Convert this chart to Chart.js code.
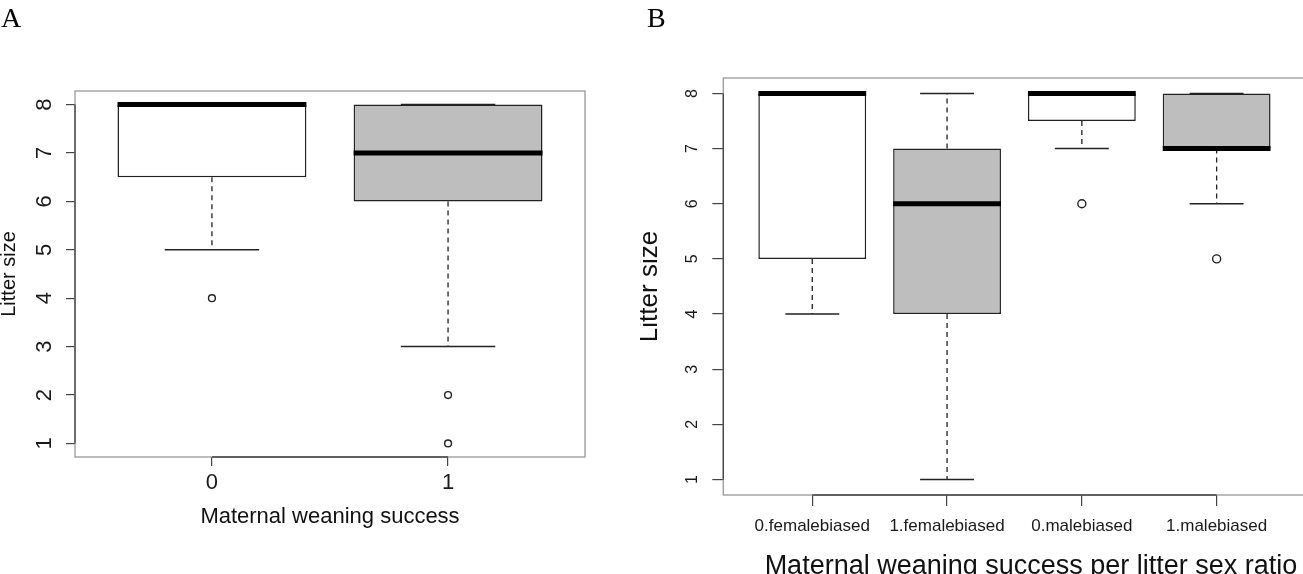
<!DOCTYPE html>
<html>
<head>
<meta charset="utf-8">
<script src="https://cdn.jsdelivr.net/npm/chart.js@4.4.1/dist/chart.umd.min.js"></script>
<style>
  html, body { margin: 0; padding: 0; background: #fff; overflow: hidden; }
  #panelA { position: absolute; left: 0; top: 0; width: 640px; height: 574px; }
  #panelB { position: absolute; left: 640px; top: 0; width: 680px; height: 574px; }
</style>
</head>
<body>
<div id="panelA"><canvas id="chartA"></canvas></div>
<div id="panelB"><canvas id="chartB"></canvas></div>
<script>
// Panel A: litter size by maternal weaning success
const groupsA = ['0', '1'];
const lowerA = [5, 3];
const q1A = [6.5, 6];
const medianA = [8, 7];
const q3A = [8, 8];
const upperA = [8, 8];
const outliersA = [[4], [2, 1]];
const fillsA = ['#FFFFFF', '#BEBEBE'];

// Panel B: maternal weaning success per litter sex ratio
const groupsB = ['0.femalebiased', '1.femalebiased', '0.malebiased', '1.malebiased'];
const lowerB = [4, 1, 7, 6];
const q1B = [5, 4, 7.5, 7];
const medianB = [8, 6, 8, 7];
const q3B = [8, 7, 8, 8];
const upperB = [8, 8, 8, 8];
const outliersB = [[], [], [6], [5]];
const fillsB = ['#FFFFFF', '#BEBEBE', '#FFFFFF', '#BEBEBE'];

const yTicks = [1, 2, 3, 4, 5, 6, 7, 8];

const BOX_WIDTH = 0.8;     // R boxwex
const STAPLE_WIDTH = 0.5;  // R staplewex
const FONT = '"Liberation Sans", Arial, sans-serif';

/**
 * Draws the parts of an R style boxplot that Chart.js has no element for:
 * dashed whiskers, staples, median bars and the plot frame.
 */
const boxplotExtras = {
    id: 'boxplotExtras',

    beforeDatasetsDraw(chart, args, opts) {
        const { ctx, scales: { x, y } } = chart;
        const half = BOX_WIDTH * STAPLE_WIDTH / 2;
        ctx.save();
        ctx.strokeStyle = '#222';
        opts.lower.forEach((lo, i) => {
            const px = x.getPixelForValue(i + 1);
            // whiskers
            ctx.lineWidth = 1.3;
            ctx.setLineDash([5, 4]);
            ctx.beginPath();
            ctx.moveTo(px, y.getPixelForValue(opts.q1[i]));
            ctx.lineTo(px, y.getPixelForValue(lo));
            ctx.moveTo(px, y.getPixelForValue(opts.q3[i]));
            ctx.lineTo(px, y.getPixelForValue(opts.upper[i]));
            ctx.stroke();
            // staples
            ctx.setLineDash([]);
            ctx.lineWidth = 1.5;
            ctx.beginPath();
            [lo, opts.upper[i]].forEach(v => {
                const py = y.getPixelForValue(v);
                ctx.moveTo(x.getPixelForValue(i + 1 - half), py);
                ctx.lineTo(x.getPixelForValue(i + 1 + half), py);
            });
            ctx.stroke();
        });
        ctx.restore();
    },

    afterDatasetsDraw(chart, args, opts) {
        const { ctx, chartArea: a, scales: { x, y } } = chart;
        ctx.save();
        // median bars
        ctx.strokeStyle = '#000';
        ctx.lineWidth = 5;
        opts.median.forEach((m, i) => {
            const py = y.getPixelForValue(m);
            ctx.beginPath();
            ctx.moveTo(x.getPixelForValue(i + 1 - BOX_WIDTH / 2), py);
            ctx.lineTo(x.getPixelForValue(i + 1 + BOX_WIDTH / 2), py);
            ctx.stroke();
        });
        // frame
        ctx.strokeStyle = '#999';
        ctx.lineWidth = 1.3;
        ctx.strokeRect(a.left, a.top, a.right - a.left, a.bottom - a.top);
        // axis lines between first and last tick
        ctx.strokeStyle = '#444';
        ctx.beginPath();
        ctx.moveTo(a.left, y.getPixelForValue(yTicks[0]));
        ctx.lineTo(a.left, y.getPixelForValue(yTicks[yTicks.length - 1]));
        ctx.moveTo(x.getPixelForValue(1), a.bottom);
        ctx.lineTo(x.getPixelForValue(opts.lower.length), a.bottom);
        ctx.stroke();
        ctx.restore();
    },

    afterDraw(chart, args, opts) {
        const { ctx } = chart;
        ctx.save();
        ctx.fillStyle = '#000';
        ctx.textBaseline = 'alphabetic';
        ctx.font = '28px "Liberation Serif", "Times New Roman", serif';
        ctx.fillText(opts.letter, opts.letterX, opts.letterY);
        if (opts.xTitle) {
            ctx.fillStyle = '#111';
            ctx.textAlign = 'center';
            ctx.font = opts.xTitle.size + 'px ' + FONT;
            ctx.fillText(opts.xTitle.text, opts.xTitle.x, opts.xTitle.y);
        }
        ctx.restore();
    }
};

function makeBoxplot(canvasId, s) {
    const n = s.groups.length;
    const ctx = document.getElementById(canvasId).getContext('2d');
    return new Chart(ctx, {
        data: {
            datasets: [{
                type: 'bar',
                data: s.groups.map((g, i) => ({ x: i + 1, y: [s.q1[i], s.q3[i]] })),
                backgroundColor: s.fills,
                borderColor: '#222',
                borderWidth: 1.5,
                borderSkipped: false,
                categoryPercentage: 1,
                barPercentage: BOX_WIDTH
            }, {
                type: 'scatter',
                data: s.outliers.flatMap((vals, i) => vals.map(v => ({ x: i + 1, y: v }))),
                pointRadius: s.pointRadius,
                pointHoverRadius: s.pointRadius,
                pointBorderWidth: 1.4,
                pointBorderColor: '#222',
                pointBackgroundColor: 'rgba(0,0,0,0)'
            }]
        },
        options: {
            responsive: true,
            maintainAspectRatio: false,
            animation: false,
            events: [],
            layout: { padding: s.padding },
            plugins: {
                legend: { display: false },
                tooltip: { enabled: false },
                boxplotExtras: {
                    lower: s.lower, q1: s.q1, median: s.median, q3: s.q3, upper: s.upper,
                    letter: s.letter, letterX: s.letterX, letterY: s.letterY,
                    xTitle: s.xTitleDrawn
                }
            },
            scales: {
                x: {
                    type: 'linear',
                    min: 0.5 - 0.04 * n,
                    max: n + 0.5 + 0.04 * n,
                    offset: false,
                    afterBuildTicks: scale => { scale.ticks = s.groups.map((g, i) => ({ value: i + 1 })); },
                    afterFit: scale => { scale.height = s.xAxisHeight; },
                    ticks: {
                        callback: v => s.groups[v - 1],
                        font: { family: FONT, size: s.xTickSize },
                        color: '#1a1a1a',
                        padding: s.xTickPadding,
                        maxRotation: 0,
                        autoSkip: false
                    },
                    grid: { drawOnChartArea: false, offset: false, tickLength: s.tickLength, color: '#444', lineWidth: 1.2 },
                    border: { display: false },
                    title: s.xTitle
                },
                y: {
                    type: 'linear',
                    min: 1 - 0.04 * 7,
                    max: 8 + 0.04 * 7,
                    afterBuildTicks: scale => { scale.ticks = yTicks.map(v => ({ value: v })); },
                    afterFit: scale => { scale.width = s.yAxisWidth; },
                    ticks: {
                        font: { family: FONT, size: s.yTickSize },
                        color: '#1a1a1a',
                        padding: s.yTickPadding,
                        minRotation: 90,
                        maxRotation: 90,
                        crossAlign: 'center',
                        autoSkip: false
                    },
                    grid: { drawOnChartArea: false, tickLength: s.tickLength, color: '#444', lineWidth: 1.2 },
                    border: { display: false },
                    title: s.yTitle
                }
            }
        },
        plugins: [boxplotExtras]
    });
}

makeBoxplot('chartA', {
    groups: groupsA, lower: lowerA, q1: q1A, median: medianA, q3: q3A, upper: upperA,
    outliers: outliersA, fills: fillsA,
    pointRadius: 3.4,
    padding: { top: 91, right: 55, left: 0, bottom: 0 },
    yAxisWidth: 75, xAxisHeight: 117, tickLength: 9,
    xTickSize: 22, xTickPadding: 4,
    yTickSize: 22, yTickPadding: 15,
    xTitle: {
        display: true, text: 'Maternal weaning success', color: '#111',
        font: { family: FONT, size: 22, lineHeight: 1.2 },
        padding: { top: 0, bottom: 44 }
    },
    yTitle: {
        display: true, text: 'Litter size', color: '#111',
        font: { family: FONT, size: 20, lineHeight: 0.97 },
        padding: { top: 0, bottom: 0 }
    },
    letter: 'A', letterX: 1, letterY: 27
});

makeBoxplot('chartB', {
    groups: groupsB, lower: lowerB, q1: q1B, median: medianB, q3: q3B, upper: upperB,
    outliers: outliersB, fills: fillsB,
    pointRadius: 4,
    padding: { top: 78, right: 14.4, left: 0, bottom: 0 },
    yAxisWidth: 83.3, xAxisHeight: 79, tickLength: 11,
    xTickSize: 17, xTickPadding: 10,
    yTickSize: 16, yTickPadding: 15,
    xTitle: { display: false },
    xTitleDrawn: { text: 'Maternal weaning success per litter sex ratio', size: 27, x: 391, y: 574 },
    yTitle: {
        display: true, text: 'Litter size', color: '#111',
        font: { family: FONT, size: 26, lineHeight: 0.77 },
        padding: { top: 0, bottom: 0 }
    },
    letter: 'B', letterX: 7, letterY: 27
});
</script>
</body>
</html>
